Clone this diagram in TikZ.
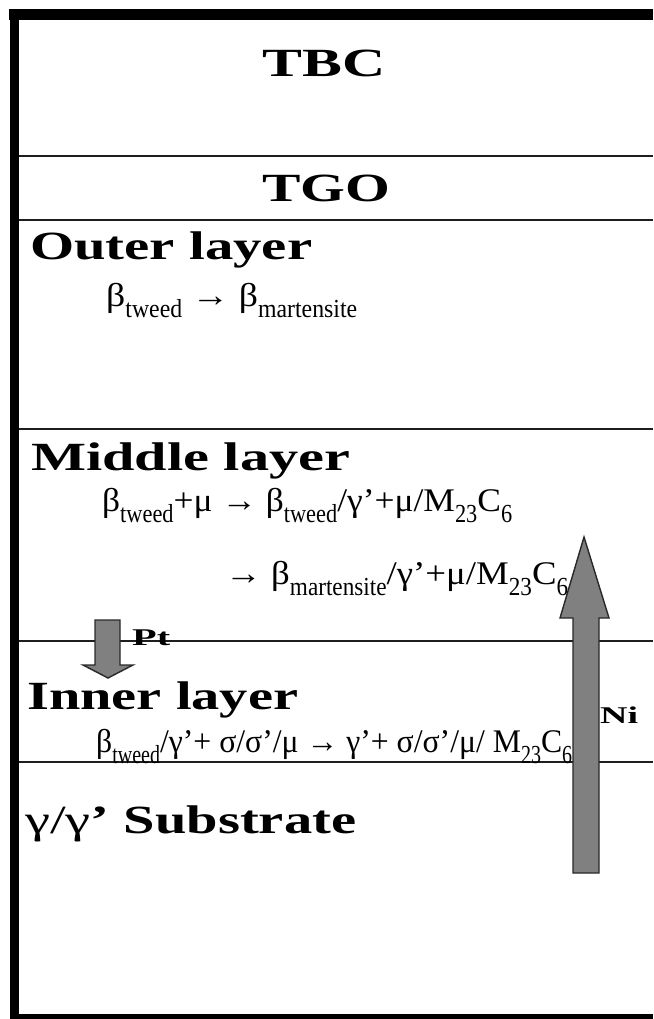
\documentclass[tikz,border=0pt]{standalone}
\usepackage{fontspec}
\setmainfont{Liberation Serif}
\usepackage{graphicx}
\usetikzlibrary{calc}
\definecolor{layerLine}{RGB}{30,30,30}
\definecolor{fluxGray}{RGB}{128,128,128}
\definecolor{fluxEdge}{RGB}{40,40,40}
\newcommand{\fitto}[2]{\resizebox{#1}{\height}{#2}}
\newcommand{\sbs}[1]{\raisebox{-11pt}{\scalebox{0.8}[1]{\fontsize{26}{26}\selectfont #1}}}

\begin{document}
\begin{tikzpicture}[x=1pt,y=-1pt,
  heading/.style={anchor=base west, inner sep=0pt, font=\fontsize{40}{40}\selectfont\bfseries},
  reaction/.style={anchor=base west, inner sep=0pt, font=\fontsize{33}{33}\selectfont},
  tag/.style={anchor=base west, inner sep=0pt, font=\fontsize{24}{24}\selectfont\bfseries},
  boundary/.style={layerLine, line width=1.6pt},
  flux/.style={fill=fluxGray, draw=fluxEdge, line width=1.4pt, line join=miter}]
\useasboundingbox (0,0) rectangle (653,1019);
\fill (9,9) rectangle (653,20);
\fill (10,9) rectangle (19,1019);
\fill (10,1014) rectangle (653,1019);

\foreach \yy in {156,220,429,641,762}
  \draw[boundary] (19,\yy) -- (653,\yy);

\node[heading, anchor=base] (tbc) at (324,77) {\fitto{123pt}{TBC}};
\node[heading, anchor=base] (tgo) at (326,201) {\fitto{128pt}{TGO}};

\node[heading] (outer) at (30,259) {\fitto{282pt}{Outer layer}};
\node[reaction] (outerR) at (106,306) {\fitto{251pt}{β\sbs{tweed} → β\sbs{martensite}}};

\node[heading] (middle) at (31,470) {\fitto{319pt}{Middle layer}};
\node[reaction] (middleR1) at (102,511) {\fitto{410pt}{β\sbs{tweed}+μ → β\sbs{tweed}/γ’+μ/M\sbs{23}C\sbs{6}}};
\node[reaction] (middleR2) at (225,584) {\fitto{343pt}{→ β\sbs{martensite}/γ’+μ/M\sbs{23}C\sbs{6}}};

\node[heading] (inner) at (27,709) {\fitto{271pt}{Inner layer}};
\node[reaction] (innerR) at (96,752) {\fitto{476pt}{β\sbs{tweed}/γ’+ σ/σ’/μ → γ’+ σ/σ’/μ/ M\sbs{23}C\sbs{6}}};

\node[heading] (subst) at (25,833) {\fitto{331pt}{{\mdseries γ/γ}’ Substrate}};

\draw[flux] (95,620) -- (120,620) -- (120,665) -- (133,665) -- (108,678) -- (83,665) -- (95,665) -- cycle;
\node[tag] (pt) at (132,645) {\fitto{38pt}{Pt}};

\draw[flux] (573,873) -- (573,618) -- (560,618) -- (584,537) -- (609,618) -- (599,618) -- (599,873) -- cycle;
\node[tag] (ni) at (600,723) {\fitto{38pt}{Ni}};
\end{tikzpicture}
\end{document}
